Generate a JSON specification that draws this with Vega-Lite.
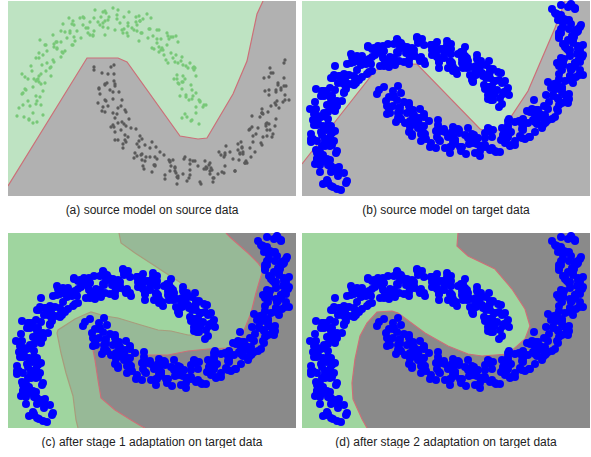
{
"$schema":"https://vega.github.io/schema/vega-lite/v6.json",
"padding":{"left":8,"top":0,"right":0,"bottom":0},
"background":"white",
"config":{"view":{"stroke":null},"title":{"font":"Liberation Sans","fontSize":12,"fontWeight":"normal","color":"#222222"}},
"datasets":{
"poly":[
{"r":"a","i":0,"x":-1.0,"y":-0.65},{"r":"a","i":1,"x":-0.21,"y":0.63},{"r":"a","i":2,"x":0.10,"y":0.63},{"r":"a","i":3,"x":0.19,"y":0.59},{"r":"a","i":4,"x":0.72,"y":-0.15},{"r":"a","i":5,"x":0.90,"y":-0.18},{"r":"a","i":6,"x":0.99,"y":-0.17},{"r":"a","i":7,"x":1.25,"y":0.27},{"r":"a","i":8,"x":1.39,"y":0.60},{"r":"a","i":9,"x":1.49,"y":1.07},{"r":"a","i":10,"x":1.55,"y":1.20},{"r":"a","i":11,"x":1.88,"y":1.20,"e":1},{"r":"a","i":12,"x":1.88,"y":-0.75,"e":1},{"r":"a","i":13,"x":-1.0,"y":-0.75,"e":1},
{"r":"b","i":0,"x":-1.0,"y":-0.43},{"r":"b","i":1,"x":-0.64,"y":0.03},{"r":"b","i":2,"x":-0.27,"y":0.50},{"r":"b","i":3,"x":-0.17,"y":0.56},{"r":"b","i":4,"x":0.15,"y":0.57},{"r":"b","i":5,"x":0.78,"y":-0.08},{"r":"b","i":6,"x":0.86,"y":-0.11},{"r":"b","i":7,"x":1.01,"y":-0.08},{"r":"b","i":8,"x":1.26,"y":0.30},{"r":"b","i":9,"x":1.53,"y":0.93},{"r":"b","i":10,"x":1.63,"y":1.20},{"r":"b","i":11,"x":1.88,"y":1.20,"e":1},{"r":"b","i":12,"x":1.88,"y":-0.75,"e":1},{"r":"b","i":13,"x":-1.0,"y":-0.75,"e":1},
{"r":"c1","i":0,"x":0.11,"y":1.20},{"r":"c1","i":1,"x":0.13,"y":1.10},{"r":"c1","i":2,"x":0.27,"y":1.00},{"r":"c1","i":3,"x":0.47,"y":0.87},{"r":"c1","i":4,"x":0.53,"y":0.83},{"r":"c1","i":5,"x":0.73,"y":0.70},{"r":"c1","i":6,"x":0.90,"y":0.57},{"r":"c1","i":7,"x":1.00,"y":0.47},{"r":"c1","i":8,"x":1.05,"y":0.37},{"r":"c1","i":9,"x":1.03,"y":0.27},{"r":"c1","i":10,"x":0.93,"y":0.18},{"r":"c1","i":11,"x":0.80,"y":0.18},{"r":"c1","i":12,"x":0.63,"y":0.22},{"r":"c1","i":13,"x":0.50,"y":0.23},{"r":"c1","i":14,"x":0.33,"y":0.28},{"r":"c1","i":15,"x":0.10,"y":0.35},{"r":"c1","i":16,"x":-0.03,"y":0.37},{"r":"c1","i":17,"x":-0.17,"y":0.41},{"r":"c1","i":18,"x":-0.22,"y":0.39},{"r":"c1","i":19,"x":-0.33,"y":0.34},{"r":"c1","i":20,"x":-0.50,"y":0.23},{"r":"c1","i":21,"x":-0.51,"y":0.20},{"r":"c1","i":22,"x":-0.47,"y":0.00},{"r":"c1","i":23,"x":-0.42,"y":-0.20},{"r":"c1","i":24,"x":-0.35,"y":-0.43},{"r":"c1","i":25,"x":-0.32,"y":-0.67},{"r":"c1","i":26,"x":-0.30,"y":-0.75},{"r":"c1","i":27,"x":1.88,"y":-0.75,"e":1},{"r":"c1","i":28,"x":1.88,"y":1.20,"e":1},
{"r":"c2","i":0,"x":1.18,"y":1.20},{"r":"c2","i":1,"x":1.23,"y":1.15},{"r":"c2","i":2,"x":1.40,"y":1.00},{"r":"c2","i":3,"x":1.50,"y":0.90},{"r":"c2","i":4,"x":1.55,"y":0.83},{"r":"c2","i":5,"x":1.53,"y":0.77},{"r":"c2","i":6,"x":1.48,"y":0.60},{"r":"c2","i":7,"x":1.43,"y":0.40},{"r":"c2","i":8,"x":1.35,"y":0.20},{"r":"c2","i":9,"x":1.30,"y":0.10},{"r":"c2","i":10,"x":1.20,"y":0.05},{"r":"c2","i":11,"x":1.00,"y":0.04},{"r":"c2","i":12,"x":0.80,"y":0.02},{"r":"c2","i":13,"x":0.60,"y":-0.02},{"r":"c2","i":14,"x":0.40,"y":-0.02},{"r":"c2","i":15,"x":0.27,"y":0.02},{"r":"c2","i":16,"x":0.10,"y":0.07},{"r":"c2","i":17,"x":-0.03,"y":0.08},{"r":"c2","i":18,"x":-0.17,"y":0.13},{"r":"c2","i":19,"x":-0.13,"y":-0.07},{"r":"c2","i":20,"x":-0.10,"y":-0.27},{"r":"c2","i":21,"x":-0.07,"y":-0.45},{"r":"c2","i":22,"x":0.07,"y":-0.57},{"r":"c2","i":23,"x":0.23,"y":-0.67},{"r":"c2","i":24,"x":0.33,"y":-0.73},{"r":"c2","i":25,"x":0.37,"y":-0.75},{"r":"c2","i":26,"x":1.88,"y":-0.75,"e":1},{"r":"c2","i":27,"x":1.88,"y":1.20,"e":1},
{"r":"d","i":0,"x":0.56,"y":1.20},{"r":"d","i":1,"x":0.55,"y":1.07},{"r":"d","i":2,"x":0.66,"y":0.97},{"r":"d","i":3,"x":0.93,"y":0.84},{"r":"d","i":4,"x":1.10,"y":0.64},{"r":"d","i":5,"x":1.23,"y":0.44},{"r":"d","i":6,"x":1.28,"y":0.27},{"r":"d","i":7,"x":1.23,"y":0.14},{"r":"d","i":8,"x":1.06,"y":-0.01},{"r":"d","i":9,"x":0.80,"y":-0.03},{"r":"d","i":10,"x":0.66,"y":-0.01},{"r":"d","i":11,"x":0.46,"y":0.07},{"r":"d","i":12,"x":0.23,"y":0.20},{"r":"d","i":13,"x":-0.04,"y":0.40},{"r":"d","i":14,"x":-0.10,"y":0.42},{"r":"d","i":15,"x":-0.25,"y":0.41},{"r":"d","i":16,"x":-0.35,"y":0.30},{"r":"d","i":17,"x":-0.42,"y":0.17},{"r":"d","i":18,"x":-0.47,"y":-0.06},{"r":"d","i":19,"x":-0.50,"y":-0.30},{"r":"d","i":20,"x":-0.49,"y":-0.46},{"r":"d","i":21,"x":-0.40,"y":-0.66},{"r":"d","i":22,"x":-0.35,"y":-0.75},{"r":"d","i":23,"x":1.88,"y":-0.75,"e":1},{"r":"d","i":24,"x":1.88,"y":1.20,"e":1}
],
"srcU":[
{"x":0.91,"y":-0.03},{"x":0.77,"y":0.07},{"x":0.88,"y":0.14},{"x":0.83,"y":0.00},
{"x":0.96,"y":0.16},{"x":0.79,"y":0.04},{"x":0.92,"y":0.20},{"x":0.84,"y":0.01},
{"x":0.72,"y":0.25},{"x":0.88,"y":0.28},{"x":0.84,"y":0.22},{"x":0.92,"y":0.19},
{"x":0.77,"y":0.42},{"x":0.85,"y":0.25},{"x":0.74,"y":0.32},{"x":0.88,"y":0.45},
{"x":0.83,"y":0.36},{"x":0.69,"y":0.46},{"x":0.80,"y":0.53},{"x":0.75,"y":0.39},
{"x":0.86,"y":0.54},{"x":0.69,"y":0.42},{"x":0.82,"y":0.58},{"x":0.74,"y":0.39},
{"x":0.58,"y":0.61},{"x":0.74,"y":0.64},{"x":0.70,"y":0.58},{"x":0.78,"y":0.55},
{"x":0.59,"y":0.76},{"x":0.67,"y":0.59},{"x":0.56,"y":0.66},{"x":0.70,"y":0.79},
{"x":0.63,"y":0.68},{"x":0.49,"y":0.78},{"x":0.60,"y":0.85},{"x":0.55,"y":0.71},
{"x":0.63,"y":0.84},{"x":0.46,"y":0.72},{"x":0.59,"y":0.88},{"x":0.51,"y":0.69},
{"x":0.33,"y":0.88},{"x":0.49,"y":0.91},{"x":0.45,"y":0.85},{"x":0.53,"y":0.82},
{"x":0.32,"y":1.00},{"x":0.40,"y":0.83},{"x":0.29,"y":0.90},{"x":0.43,"y":1.03},
{"x":0.34,"y":0.88},{"x":0.20,"y":0.98},{"x":0.31,"y":1.05},{"x":0.26,"y":0.91},
{"x":0.32,"y":1.00},{"x":0.15,"y":0.88},{"x":0.28,"y":1.04},{"x":0.20,"y":0.85},
{"x":0.00,"y":1.01},{"x":0.16,"y":1.04},{"x":0.12,"y":0.98},{"x":0.20,"y":0.95},
{"x":-0.02,"y":1.08},{"x":0.07,"y":0.91},{"x":-0.05,"y":0.98},{"x":0.10,"y":1.11},
{"x":0.00,"y":0.93},{"x":-0.14,"y":1.03},{"x":-0.03,"y":1.10},{"x":-0.08,"y":0.96},
{"x":-0.03,"y":1.00},{"x":-0.20,"y":0.88},{"x":-0.07,"y":1.04},{"x":-0.15,"y":0.85},
{"x":-0.34,"y":0.96},{"x":-0.18,"y":0.99},{"x":-0.22,"y":0.93},{"x":-0.14,"y":0.90},
{"x":-0.35,"y":1.00},{"x":-0.27,"y":0.83},{"x":-0.38,"y":0.90},{"x":-0.24,"y":1.03},
{"x":-0.33,"y":0.80},{"x":-0.47,"y":0.90},{"x":-0.36,"y":0.97},{"x":-0.41,"y":0.83},
{"x":-0.34,"y":0.84},{"x":-0.51,"y":0.72},{"x":-0.38,"y":0.88},{"x":-0.46,"y":0.69},
{"x":-0.63,"y":0.76},{"x":-0.47,"y":0.79},{"x":-0.51,"y":0.73},{"x":-0.43,"y":0.70},
{"x":-0.62,"y":0.76},{"x":-0.54,"y":0.59},{"x":-0.65,"y":0.66},{"x":-0.51,"y":0.79},
{"x":-0.58,"y":0.53},{"x":-0.72,"y":0.63},{"x":-0.61,"y":0.70},{"x":-0.66,"y":0.56},
{"x":-0.57,"y":0.54},{"x":-0.74,"y":0.42},{"x":-0.61,"y":0.58},{"x":-0.69,"y":0.39},
{"x":-0.83,"y":0.44},{"x":-0.67,"y":0.47},{"x":-0.71,"y":0.41},{"x":-0.63,"y":0.38},
{"x":-0.80,"y":0.42},{"x":-0.72,"y":0.25},{"x":-0.83,"y":0.32},{"x":-0.69,"y":0.45},
{"x":-0.72,"y":0.17},{"x":-0.86,"y":0.27},{"x":-0.75,"y":0.34},{"x":-0.80,"y":0.20},
{"x":-0.67,"y":0.16},{"x":-0.84,"y":0.04},{"x":-0.71,"y":0.20},{"x":-0.79,"y":0.01},
{"x":-0.91,"y":0.05},{"x":-0.75,"y":0.08},{"x":-0.79,"y":0.02},{"x":-0.71,"y":-0.01},
{"x":0.95,"y":0.14},{"x":0.81,"y":0.21},{"x":0.74,"y":0.03},
{"x":0.88,"y":0.08},{"x":0.98,"y":0.16},{"x":0.78,"y":0.26},
{"x":0.84,"y":0.31},{"x":0.70,"y":0.38},{"x":0.91,"y":0.21},
{"x":0.78,"y":0.24},{"x":0.86,"y":0.51},{"x":0.71,"y":0.37},
{"x":0.87,"y":0.53},{"x":0.73,"y":0.60},{"x":0.66,"y":0.42},
{"x":0.75,"y":0.45},{"x":0.85,"y":0.53},{"x":0.65,"y":0.63},
{"x":0.68,"y":0.66},{"x":0.54,"y":0.73},{"x":0.75,"y":0.56},
{"x":0.60,"y":0.58},{"x":0.68,"y":0.85},{"x":0.53,"y":0.71},
{"x":0.65,"y":0.84},{"x":0.51,"y":0.91},{"x":0.44,"y":0.73},
{"x":0.51,"y":0.74},{"x":0.61,"y":0.82},{"x":0.41,"y":0.92},
{"x":0.42,"y":0.92},{"x":0.28,"y":0.99},{"x":0.49,"y":0.82},
{"x":0.31,"y":0.80},{"x":0.39,"y":1.07},{"x":0.24,"y":0.93},
{"x":0.35,"y":1.02},{"x":0.21,"y":1.09},{"x":0.14,"y":0.91},
{"x":0.19,"y":0.88},{"x":0.29,"y":0.96},{"x":0.09,"y":1.06},
{"x":0.09,"y":1.02},{"x":-0.05,"y":1.09},{"x":0.16,"y":0.92},
{"x":-0.03,"y":0.86},{"x":0.05,"y":1.13},{"x":-0.10,"y":0.99},
{"x":0.01,"y":1.04},{"x":-0.13,"y":1.11},{"x":-0.20,"y":0.93},
{"x":-0.15,"y":0.86},{"x":-0.05,"y":0.94},{"x":-0.25,"y":1.04},
{"x":-0.25,"y":0.96},{"x":-0.39,"y":1.03},{"x":-0.18,"y":0.86},
{"x":-0.36,"y":0.76},{"x":-0.28,"y":1.03},{"x":-0.43,"y":0.89},
{"x":-0.31,"y":0.90},{"x":-0.45,"y":0.97},{"x":-0.52,"y":0.79},
{"x":-0.45,"y":0.68},{"x":-0.35,"y":0.76},{"x":-0.55,"y":0.86},
{"x":-0.54,"y":0.74},{"x":-0.68,"y":0.81},{"x":-0.47,"y":0.64},
{"x":-0.62,"y":0.50},{"x":-0.54,"y":0.77},{"x":-0.69,"y":0.63},
{"x":-0.55,"y":0.61},{"x":-0.69,"y":0.68},{"x":-0.76,"y":0.50},
{"x":-0.67,"y":0.37},{"x":-0.57,"y":0.45},{"x":-0.77,"y":0.55},
{"x":-0.72,"y":0.40},{"x":-0.86,"y":0.47},{"x":-0.65,"y":0.30},
{"x":-0.78,"y":0.15},{"x":-0.70,"y":0.42},{"x":-0.85,"y":0.28},
{"x":-0.68,"y":0.24},{"x":-0.82,"y":0.31},{"x":-0.89,"y":0.13},
{"x":-0.75,"y":-0.02},{"x":-0.65,"y":0.06},{"x":-0.85,"y":0.16}
],
"srcL":[
{"x":0.06,"y":0.56},{"x":-0.03,"y":0.37},{"x":-0.14,"y":0.51},{"x":0.03,"y":0.54},
{"x":-0.01,"y":0.38},{"x":0.07,"y":0.35},{"x":-0.06,"y":0.48},{"x":0.02,"y":0.31},
{"x":-0.08,"y":0.27},{"x":0.06,"y":0.40},{"x":0.05,"y":0.22},{"x":-0.09,"y":0.32},
{"x":0.05,"y":0.29},{"x":0.00,"y":0.15},{"x":0.14,"y":0.21},{"x":-0.03,"y":0.09},
{"x":0.13,"y":0.15},{"x":0.05,"y":-0.04},{"x":-0.06,"y":0.10},{"x":0.10,"y":0.13},
{"x":0.10,"y":-0.02},{"x":0.18,"y":-0.05},{"x":0.05,"y":0.08},{"x":0.13,"y":-0.09},
{"x":0.07,"y":-0.11},{"x":0.21,"y":0.02},{"x":0.20,"y":-0.16},{"x":0.06,"y":-0.06},
{"x":0.23,"y":-0.07},{"x":0.18,"y":-0.21},{"x":0.32,"y":-0.15},{"x":0.15,"y":-0.27},
{"x":0.34,"y":-0.18},{"x":0.26,"y":-0.37},{"x":0.15,"y":-0.23},{"x":0.31,"y":-0.20},
{"x":0.34,"y":-0.33},{"x":0.42,"y":-0.36},{"x":0.29,"y":-0.23},{"x":0.37,"y":-0.40},
{"x":0.34,"y":-0.39},{"x":0.48,"y":-0.26},{"x":0.47,"y":-0.44},{"x":0.33,"y":-0.34},
{"x":0.52,"y":-0.31},{"x":0.47,"y":-0.45},{"x":0.61,"y":-0.39},{"x":0.44,"y":-0.51},
{"x":0.65,"y":-0.39},{"x":0.57,"y":-0.58},{"x":0.46,"y":-0.44},{"x":0.62,"y":-0.41},
{"x":0.67,"y":-0.50},{"x":0.75,"y":-0.53},{"x":0.62,"y":-0.40},{"x":0.70,"y":-0.57},
{"x":0.68,"y":-0.52},{"x":0.82,"y":-0.39},{"x":0.81,"y":-0.57},{"x":0.67,"y":-0.47},
{"x":0.87,"y":-0.40},{"x":0.82,"y":-0.54},{"x":0.96,"y":-0.48},{"x":0.79,"y":-0.60},
{"x":1.01,"y":-0.44},{"x":0.93,"y":-0.63},{"x":0.82,"y":-0.49},{"x":0.98,"y":-0.46},
{"x":1.02,"y":-0.50},{"x":1.10,"y":-0.53},{"x":0.97,"y":-0.40},{"x":1.05,"y":-0.57},
{"x":1.03,"y":-0.47},{"x":1.17,"y":-0.34},{"x":1.16,"y":-0.52},{"x":1.02,"y":-0.42},
{"x":1.22,"y":-0.31},{"x":1.17,"y":-0.45},{"x":1.31,"y":-0.39},{"x":1.14,"y":-0.51},
{"x":1.35,"y":-0.31},{"x":1.27,"y":-0.50},{"x":1.16,"y":-0.36},{"x":1.32,"y":-0.33},
{"x":1.35,"y":-0.33},{"x":1.43,"y":-0.36},{"x":1.30,"y":-0.23},{"x":1.38,"y":-0.40},
{"x":1.34,"y":-0.26},{"x":1.48,"y":-0.13},{"x":1.47,"y":-0.31},{"x":1.33,"y":-0.21},
{"x":1.50,"y":-0.07},{"x":1.45,"y":-0.21},{"x":1.59,"y":-0.15},{"x":1.42,"y":-0.27},
{"x":1.61,"y":-0.03},{"x":1.53,"y":-0.22},{"x":1.42,"y":-0.08},{"x":1.58,"y":-0.05},
{"x":1.59,"y":-0.02},{"x":1.67,"y":-0.05},{"x":1.54,"y":0.08},{"x":1.62,"y":-0.09},
{"x":1.55,"y":0.07},{"x":1.69,"y":0.20},{"x":1.68,"y":0.02},{"x":1.54,"y":0.12},
{"x":1.68,"y":0.29},{"x":1.63,"y":0.15},{"x":1.77,"y":0.21},{"x":1.60,"y":0.09},
{"x":1.76,"y":0.35},{"x":1.68,"y":0.16},{"x":1.57,"y":0.30},{"x":1.73,"y":0.33},
{"x":1.70,"y":0.38},{"x":1.78,"y":0.35},{"x":1.65,"y":0.48},{"x":1.73,"y":0.31},
{"x":1.63,"y":0.48},{"x":1.77,"y":0.61},{"x":1.76,"y":0.43},{"x":1.62,"y":0.53},
{"x":0.00,"y":0.47},{"x":-0.14,"y":0.54},{"x":0.07,"y":0.37},
{"x":-0.02,"y":0.20},{"x":0.06,"y":0.47},{"x":-0.09,"y":0.33},
{"x":0.11,"y":0.29},{"x":-0.03,"y":0.36},{"x":-0.10,"y":0.18},
{"x":0.07,"y":0.03},{"x":0.17,"y":0.11},{"x":-0.03,"y":0.21},
{"x":0.09,"y":0.07},{"x":-0.05,"y":0.14},{"x":0.16,"y":-0.03},
{"x":0.10,"y":-0.19},{"x":0.18,"y":0.09},{"x":0.03,"y":-0.06},
{"x":0.28,"y":-0.08},{"x":0.14,"y":-0.01},{"x":0.07,"y":-0.19},
{"x":0.27,"y":-0.32},{"x":0.37,"y":-0.24},{"x":0.17,"y":-0.14},
{"x":0.31,"y":-0.26},{"x":0.17,"y":-0.19},{"x":0.38,"y":-0.36},
{"x":0.36,"y":-0.48},{"x":0.44,"y":-0.21},{"x":0.29,"y":-0.35},
{"x":0.56,"y":-0.34},{"x":0.42,"y":-0.27},{"x":0.35,"y":-0.45},
{"x":0.57,"y":-0.54},{"x":0.67,"y":-0.46},{"x":0.47,"y":-0.36},
{"x":0.63,"y":-0.45},{"x":0.49,"y":-0.38},{"x":0.70,"y":-0.55},
{"x":0.69,"y":-0.63},{"x":0.77,"y":-0.36},{"x":0.62,"y":-0.50},
{"x":0.90,"y":-0.45},{"x":0.76,"y":-0.38},{"x":0.69,"y":-0.56},
{"x":0.92,"y":-0.61},{"x":1.02,"y":-0.53},{"x":0.82,"y":-0.43},
{"x":0.99,"y":-0.47},{"x":0.85,"y":-0.40},{"x":1.06,"y":-0.57},
{"x":1.05,"y":-0.61},{"x":1.13,"y":-0.34},{"x":0.98,"y":-0.48},
{"x":1.25,"y":-0.38},{"x":1.11,"y":-0.31},{"x":1.04,"y":-0.49},
{"x":1.27,"y":-0.50},{"x":1.37,"y":-0.42},{"x":1.17,"y":-0.32},
{"x":1.32,"y":-0.32},{"x":1.18,"y":-0.25},{"x":1.39,"y":-0.42},
{"x":1.37,"y":-0.42},{"x":1.45,"y":-0.15},{"x":1.30,"y":-0.29},
{"x":1.55,"y":-0.16},{"x":1.41,"y":-0.09},{"x":1.34,"y":-0.27},
{"x":1.54,"y":-0.24},{"x":1.64,"y":-0.16},{"x":1.44,"y":-0.06},
{"x":1.58,"y":-0.03},{"x":1.44,"y":0.05},{"x":1.65,"y":-0.13},
{"x":1.59,"y":-0.09},{"x":1.67,"y":0.18},{"x":1.52,"y":0.04},
{"x":1.75,"y":0.19},{"x":1.61,"y":0.26},{"x":1.54,"y":0.08},
{"x":1.71,"y":0.13},{"x":1.81,"y":0.21},{"x":1.61,"y":0.31},
{"x":1.70,"y":0.36},{"x":1.56,"y":0.43},{"x":1.77,"y":0.26},
{"x":1.68,"y":0.31},{"x":1.76,"y":0.58},{"x":1.61,"y":0.44}
],
"tgt":[
{"x":-0.61,"y":-0.69},{"x":-0.75,"y":-0.59},{"x":-0.64,"y":-0.52},{"x":-0.69,"y":-0.66},{"x":-0.55,"y":-0.60},
{"x":-0.76,"y":-0.62},{"x":-0.63,"y":-0.46},{"x":-0.71,"y":-0.65},{"x":-0.82,"y":-0.51},{"x":-0.66,"y":-0.48},
{"x":-0.74,"y":-0.44},{"x":-0.66,"y":-0.47},{"x":-0.79,"y":-0.34},{"x":-0.71,"y":-0.51},{"x":-0.82,"y":-0.44},
{"x":-0.71,"y":-0.21},{"x":-0.72,"y":-0.39},{"x":-0.86,"y":-0.29},{"x":-0.75,"y":-0.22},{"x":-0.80,"y":-0.36},
{"x":-0.68,"y":-0.20},{"x":-0.85,"y":-0.32},{"x":-0.72,"y":-0.16},{"x":-0.80,"y":-0.35},{"x":-0.91,"y":-0.21},
{"x":-0.76,"y":-0.08},{"x":-0.80,"y":-0.14},{"x":-0.72,"y":-0.17},{"x":-0.85,"y":-0.04},{"x":-0.77,"y":-0.21},
{"x":-0.88,"y":-0.04},{"x":-0.74,"y":0.09},{"x":-0.75,"y":-0.09},{"x":-0.89,"y":0.01},{"x":-0.78,"y":0.08},
{"x":-0.81,"y":0.04},{"x":-0.67,"y":0.10},{"x":-0.84,"y":-0.02},{"x":-0.71,"y":0.14},{"x":-0.79,"y":-0.05},
{"x":-0.87,"y":0.19},{"x":-0.71,"y":0.22},{"x":-0.75,"y":0.16},{"x":-0.67,"y":0.13},{"x":-0.80,"y":0.26},
{"x":-0.67,"y":0.18},{"x":-0.78,"y":0.25},{"x":-0.64,"y":0.38},{"x":-0.65,"y":0.20},{"x":-0.79,"y":0.30},
{"x":-0.62,"y":0.45},{"x":-0.67,"y":0.31},{"x":-0.53,"y":0.37},{"x":-0.70,"y":0.25},{"x":-0.57,"y":0.41},
{"x":-0.58,"y":0.29},{"x":-0.69,"y":0.43},{"x":-0.53,"y":0.46},{"x":-0.60,"y":0.38},{"x":-0.49,"y":0.37},
{"x":-0.55,"y":0.57},{"x":-0.47,"y":0.40},{"x":-0.58,"y":0.47},{"x":-0.44,"y":0.60},{"x":-0.45,"y":0.42},
{"x":-0.51,"y":0.58},{"x":-0.40,"y":0.65},{"x":-0.45,"y":0.51},{"x":-0.31,"y":0.57},{"x":-0.48,"y":0.45},
{"x":-0.27,"y":0.66},{"x":-0.35,"y":0.47},{"x":-0.46,"y":0.61},{"x":-0.30,"y":0.64},{"x":-0.34,"y":0.58},
{"x":-0.17,"y":0.59},{"x":-0.30,"y":0.72},{"x":-0.22,"y":0.55},{"x":-0.33,"y":0.62},{"x":-0.19,"y":0.75},
{"x":-0.11,"y":0.60},{"x":-0.25,"y":0.70},{"x":-0.14,"y":0.77},{"x":-0.19,"y":0.63},{"x":-0.05,"y":0.69},
{"x":-0.12,"y":0.59},{"x":0.01,"y":0.75},{"x":-0.07,"y":0.56},{"x":-0.18,"y":0.70},{"x":-0.02,"y":0.73},
{"x":0.04,"y":0.68},{"x":0.12,"y":0.65},{"x":-0.01,"y":0.78},{"x":0.07,"y":0.61},{"x":-0.04,"y":0.68},
{"x":0.20,"y":0.82},{"x":0.19,"y":0.64},{"x":0.05,"y":0.74},{"x":0.16,"y":0.81},{"x":0.11,"y":0.67},
{"x":0.35,"y":0.72},{"x":0.18,"y":0.60},{"x":0.31,"y":0.76},{"x":0.23,"y":0.57},{"x":0.12,"y":0.71},
{"x":0.38,"y":0.72},{"x":0.34,"y":0.66},{"x":0.42,"y":0.63},{"x":0.29,"y":0.76},{"x":0.37,"y":0.59},
{"x":0.35,"y":0.64},{"x":0.49,"y":0.77},{"x":0.48,"y":0.59},{"x":0.34,"y":0.69},{"x":0.45,"y":0.76},
{"x":0.49,"y":0.59},{"x":0.63,"y":0.65},{"x":0.46,"y":0.53},{"x":0.59,"y":0.69},{"x":0.51,"y":0.50},
{"x":0.50,"y":0.58},{"x":0.65,"y":0.63},{"x":0.61,"y":0.57},{"x":0.69,"y":0.54},{"x":0.56,"y":0.67},
{"x":0.72,"y":0.46},{"x":0.61,"y":0.53},{"x":0.75,"y":0.66},{"x":0.74,"y":0.48},{"x":0.60,"y":0.58},
{"x":0.79,"y":0.60},{"x":0.74,"y":0.46},{"x":0.88,"y":0.52},{"x":0.71,"y":0.40},{"x":0.84,"y":0.56},
{"x":0.83,"y":0.32},{"x":0.72,"y":0.46},{"x":0.88,"y":0.49},{"x":0.84,"y":0.43},{"x":0.92,"y":0.40},
{"x":0.85,"y":0.46},{"x":0.93,"y":0.29},{"x":0.82,"y":0.36},{"x":0.96,"y":0.49},{"x":0.95,"y":0.31},
{"x":0.86,"y":0.34},{"x":0.97,"y":0.41},{"x":0.92,"y":0.27},{"x":1.06,"y":0.33},{"x":0.89,"y":0.21},
{"x":1.05,"y":0.31},{"x":0.97,"y":0.14},{"x":0.86,"y":0.26},{"x":1.02,"y":0.29},{"x":0.98,"y":0.23},
{"x":-0.58,"y":-0.52},{"x":-0.72,"y":-0.45},{"x":-0.79,"y":-0.63},{"x":-0.65,"y":-0.68},{"x":-0.56,"y":-0.62},
{"x":-0.79,"y":-0.40},{"x":-0.71,"y":-0.45},{"x":-0.85,"y":-0.38},{"x":-0.64,"y":-0.55},{"x":-0.74,"y":-0.61},
{"x":-0.70,"y":-0.24},{"x":-0.85,"y":-0.38},{"x":-0.66,"y":-0.32},{"x":-0.80,"y":-0.25},{"x":-0.87,"y":-0.43},
{"x":-0.75,"y":-0.38},{"x":-0.65,"y":-0.30},{"x":-0.85,"y":-0.20},{"x":-0.77,"y":-0.25},{"x":-0.91,"y":-0.18},
{"x":-0.72,"y":-0.25},{"x":-0.82,"y":-0.31},{"x":-0.74,"y":-0.04},{"x":-0.89,"y":-0.18},{"x":-0.70,"y":-0.12},
{"x":-0.84,"y":0.05},{"x":-0.91,"y":-0.13},{"x":-0.77,"y":-0.18},{"x":-0.67,"y":-0.10},{"x":-0.87,"y":0.00},
{"x":-0.78,"y":0.05},{"x":-0.92,"y":0.12},{"x":-0.71,"y":-0.05},{"x":-0.81,"y":-0.11},{"x":-0.73,"y":0.16},
{"x":-0.86,"y":0.12},{"x":-0.67,"y":0.18},{"x":-0.81,"y":0.25},{"x":-0.88,"y":0.07},{"x":-0.74,"y":0.02},
{"x":-0.60,"y":0.20},{"x":-0.80,"y":0.30},{"x":-0.72,"y":0.25},{"x":-0.86,"y":0.32},{"x":-0.65,"y":0.15},
{"x":-0.69,"y":0.17},{"x":-0.61,"y":0.44},{"x":-0.76,"y":0.30},{"x":-0.57,"y":0.36},{"x":-0.71,"y":0.43},
{"x":-0.72,"y":0.33},{"x":-0.58,"y":0.28},{"x":-0.48,"y":0.36},{"x":-0.68,"y":0.46},{"x":-0.60,"y":0.41},
{"x":-0.67,"y":0.55},{"x":-0.46,"y":0.38},{"x":-0.56,"y":0.32},{"x":-0.48,"y":0.59},{"x":-0.63,"y":0.45},
{"x":-0.36,"y":0.57},{"x":-0.50,"y":0.64},{"x":-0.57,"y":0.46},{"x":-0.43,"y":0.41},{"x":-0.33,"y":0.49},
{"x":-0.45,"y":0.65},{"x":-0.37,"y":0.60},{"x":-0.51,"y":0.67},{"x":-0.30,"y":0.50},{"x":-0.40,"y":0.44},
{"x":-0.24,"y":0.75},{"x":-0.39,"y":0.61},{"x":-0.20,"y":0.67},{"x":-0.34,"y":0.74},{"x":-0.41,"y":0.56},
{"x":-0.18,"y":0.55},{"x":-0.08,"y":0.63},{"x":-0.28,"y":0.73},{"x":-0.20,"y":0.68},{"x":-0.34,"y":0.75},
{"x":-0.03,"y":0.60},{"x":-0.13,"y":0.54},{"x":-0.05,"y":0.81},{"x":-0.20,"y":0.67},{"x":-0.01,"y":0.73},
{"x":-0.05,"y":0.82},{"x":-0.12,"y":0.64},{"x":0.02,"y":0.59},{"x":0.12,"y":0.67},{"x":-0.08,"y":0.77},
{"x":0.10,"y":0.73},{"x":-0.04,"y":0.80},{"x":0.17,"y":0.63},{"x":0.07,"y":0.57},{"x":0.15,"y":0.84},
{"x":0.10,"y":0.70},{"x":0.29,"y":0.76},{"x":0.15,"y":0.83},{"x":0.08,"y":0.65},{"x":0.22,"y":0.60},
{"x":0.42,"y":0.66},{"x":0.22,"y":0.76},{"x":0.30,"y":0.71},{"x":0.16,"y":0.78},{"x":0.37,"y":0.61},
{"x":0.37,"y":0.53},{"x":0.45,"y":0.80},{"x":0.30,"y":0.66},{"x":0.49,"y":0.72},{"x":0.35,"y":0.79},
{"x":0.37,"y":0.59},{"x":0.51,"y":0.54},{"x":0.61,"y":0.62},{"x":0.41,"y":0.72},{"x":0.49,"y":0.67},
{"x":0.44,"y":0.70},{"x":0.65,"y":0.53},{"x":0.55,"y":0.47},{"x":0.63,"y":0.74},{"x":0.48,"y":0.60},
{"x":0.75,"y":0.62},{"x":0.61,"y":0.69},{"x":0.54,"y":0.51},{"x":0.68,"y":0.46},{"x":0.78,"y":0.54},
{"x":0.66,"y":0.60},{"x":0.74,"y":0.55},{"x":0.60,"y":0.62},{"x":0.81,"y":0.45},{"x":0.71,"y":0.39},
{"x":0.87,"y":0.60},{"x":0.72,"y":0.46},{"x":0.91,"y":0.52},{"x":0.77,"y":0.59},{"x":0.70,"y":0.41},
{"x":0.90,"y":0.30},{"x":1.00,"y":0.38},{"x":0.80,"y":0.48},{"x":0.88,"y":0.43},{"x":0.74,"y":0.50},
{"x":1.01,"y":0.27},{"x":0.91,"y":0.21},{"x":0.99,"y":0.48},{"x":0.84,"y":0.34},{"x":1.03,"y":0.40},
{"x":0.93,"y":0.40},{"x":0.86,"y":0.22},{"x":1.00,"y":0.17},{"x":1.07,"y":0.26},{"x":0.90,"y":0.35},
{"x":-0.25,"y":0.27},{"x":-0.09,"y":0.30},{"x":-0.13,"y":0.24},{"x":-0.05,"y":0.21},{"x":-0.18,"y":0.34},
{"x":-0.04,"y":0.08},{"x":-0.15,"y":0.15},{"x":-0.01,"y":0.28},{"x":-0.02,"y":0.10},{"x":-0.16,"y":0.20},
{"x":0.02,"y":0.19},{"x":-0.03,"y":0.05},{"x":0.11,"y":0.11},{"x":-0.06,"y":-0.01},{"x":0.07,"y":0.15},
{"x":0.07,"y":-0.11},{"x":-0.04,"y":0.03},{"x":0.12,"y":0.06},{"x":0.08,"y":0.00},{"x":0.16,"y":-0.03},
{"x":0.11,"y":0.04},{"x":0.19,"y":-0.13},{"x":0.08,"y":-0.06},{"x":0.22,"y":0.07},{"x":0.21,"y":-0.11},
{"x":0.16,"y":-0.07},{"x":0.27,"y":0.00},{"x":0.22,"y":-0.14},{"x":0.36,"y":-0.08},{"x":0.19,"y":-0.20},
{"x":0.42,"y":-0.08},{"x":0.34,"y":-0.27},{"x":0.23,"y":-0.13},{"x":0.39,"y":-0.10},{"x":0.35,"y":-0.16},
{"x":0.53,"y":-0.22},{"x":0.40,"y":-0.09},{"x":0.48,"y":-0.26},{"x":0.37,"y":-0.19},{"x":0.51,"y":-0.06},
{"x":0.60,"y":-0.26},{"x":0.46,"y":-0.16},{"x":0.57,"y":-0.09},{"x":0.52,"y":-0.23},{"x":0.66,"y":-0.17},
{"x":0.59,"y":-0.30},{"x":0.72,"y":-0.14},{"x":0.64,"y":-0.33},{"x":0.53,"y":-0.19},{"x":0.69,"y":-0.16},
{"x":0.75,"y":-0.23},{"x":0.83,"y":-0.26},{"x":0.70,"y":-0.13},{"x":0.78,"y":-0.30},{"x":0.67,"y":-0.23},
{"x":0.91,"y":-0.09},{"x":0.90,"y":-0.27},{"x":0.76,"y":-0.17},{"x":0.87,"y":-0.10},{"x":0.82,"y":-0.24},
{"x":1.06,"y":-0.16},{"x":0.89,"y":-0.28},{"x":1.02,"y":-0.12},{"x":0.94,"y":-0.31},{"x":0.83,"y":-0.17},
{"x":1.09,"y":-0.11},{"x":1.05,"y":-0.17},{"x":1.13,"y":-0.20},{"x":1.00,"y":-0.07},{"x":1.08,"y":-0.24},
{"x":1.07,"y":-0.12},{"x":1.21,"y":0.01},{"x":1.20,"y":-0.17},{"x":1.06,"y":-0.07},{"x":1.17,"y":0.00},
{"x":1.21,"y":-0.09},{"x":1.35,"y":-0.03},{"x":1.18,"y":-0.15},{"x":1.31,"y":0.01},{"x":1.23,"y":-0.18},
{"x":1.21,"y":0.02},{"x":1.37,"y":0.05},{"x":1.33,"y":-0.01},{"x":1.41,"y":-0.04},{"x":1.28,"y":0.09},
{"x":1.44,"y":-0.01},{"x":1.33,"y":0.06},{"x":1.47,"y":0.19},{"x":1.46,"y":0.01},{"x":1.32,"y":0.11},
{"x":1.51,"y":0.26},{"x":1.46,"y":0.12},{"x":1.60,"y":0.18},{"x":1.43,"y":0.06},{"x":1.56,"y":0.22},
{"x":1.55,"y":0.12},{"x":1.44,"y":0.26},{"x":1.60,"y":0.29},{"x":1.56,"y":0.23},{"x":1.64,"y":0.20},
{"x":1.57,"y":0.42},{"x":1.65,"y":0.25},{"x":1.54,"y":0.32},{"x":1.68,"y":0.45},{"x":1.67,"y":0.27},
{"x":1.57,"y":0.47},{"x":1.68,"y":0.54},{"x":1.63,"y":0.40},{"x":1.77,"y":0.46},{"x":1.60,"y":0.34},
{"x":1.76,"y":0.60},{"x":1.68,"y":0.41},{"x":1.57,"y":0.55},{"x":1.73,"y":0.58},{"x":1.69,"y":0.52},
{"x":1.78,"y":0.59},{"x":1.65,"y":0.72},{"x":1.73,"y":0.55},{"x":1.62,"y":0.62},{"x":1.76,"y":0.75},
{"x":1.75,"y":0.67},{"x":1.61,"y":0.77},{"x":1.72,"y":0.84},{"x":1.67,"y":0.70},{"x":1.81,"y":0.76},
{"x":1.63,"y":0.74},{"x":1.76,"y":0.90},{"x":1.68,"y":0.71},{"x":1.57,"y":0.85},{"x":1.73,"y":0.88},
{"x":1.67,"y":0.92},{"x":1.75,"y":0.89},{"x":1.62,"y":1.02},{"x":1.70,"y":0.85},{"x":1.59,"y":0.92},
{"x":1.70,"y":1.15},{"x":1.69,"y":0.97},{"x":1.55,"y":1.07},{"x":1.66,"y":1.14},{"x":1.61,"y":1.00},
{"x":1.73,"y":1.13},{"x":1.56,"y":1.01},{"x":1.69,"y":1.17},{"x":1.61,"y":0.98},{"x":1.50,"y":1.12},
{"x":-0.09,"y":0.24},{"x":-0.23,"y":0.31},{"x":-0.02,"y":0.14},{"x":-0.12,"y":0.08},{"x":-0.04,"y":0.35},
{"x":-0.13,"y":0.12},{"x":0.07,"y":0.18},{"x":-0.08,"y":0.25},{"x":-0.15,"y":0.07},{"x":-0.01,"y":0.02},
{"x":0.17,"y":0.03},{"x":-0.03,"y":0.13},{"x":0.05,"y":0.08},{"x":-0.09,"y":0.15},{"x":0.12,"y":-0.03},
{"x":0.10,"y":-0.15},{"x":0.18,"y":0.12},{"x":0.03,"y":-0.02},{"x":0.22,"y":0.04},{"x":0.08,"y":0.11},
{"x":0.10,"y":-0.13},{"x":0.24,"y":-0.18},{"x":0.34,"y":-0.10},{"x":0.14,"y":0.00},{"x":0.22,"y":-0.05},
{"x":0.17,"y":-0.03},{"x":0.38,"y":-0.20},{"x":0.28,"y":-0.26},{"x":0.36,"y":0.01},{"x":0.21,"y":-0.13},
{"x":0.50,"y":-0.11},{"x":0.36,"y":-0.04},{"x":0.29,"y":-0.22},{"x":0.43,"y":-0.27},{"x":0.53,"y":-0.19},
{"x":0.43,"y":-0.11},{"x":0.51,"y":-0.16},{"x":0.37,"y":-0.09},{"x":0.58,"y":-0.26},{"x":0.48,"y":-0.32},
{"x":0.66,"y":-0.07},{"x":0.51,"y":-0.21},{"x":0.70,"y":-0.15},{"x":0.56,"y":-0.08},{"x":0.49,"y":-0.26},
{"x":0.73,"y":-0.32},{"x":0.83,"y":-0.24},{"x":0.63,"y":-0.14},{"x":0.71,"y":-0.19},{"x":0.57,"y":-0.12},
{"x":0.88,"y":-0.29},{"x":0.78,"y":-0.35},{"x":0.86,"y":-0.08},{"x":0.71,"y":-0.22},{"x":0.90,"y":-0.16},
{"x":0.86,"y":-0.07},{"x":0.79,"y":-0.25},{"x":0.93,"y":-0.30},{"x":1.03,"y":-0.22},{"x":0.83,"y":-0.12},
{"x":1.01,"y":-0.15},{"x":0.87,"y":-0.08},{"x":1.08,"y":-0.25},{"x":0.98,"y":-0.31},{"x":1.06,"y":-0.04},
{"x":1.01,"y":-0.14},{"x":1.20,"y":-0.08},{"x":1.06,"y":0.00},{"x":0.99,"y":-0.19},{"x":1.13,"y":-0.24},
{"x":1.33,"y":-0.11},{"x":1.13,"y":-0.01},{"x":1.21,"y":-0.06},{"x":1.07,"y":0.02},{"x":1.28,"y":-0.16},
{"x":1.27,"y":-0.16},{"x":1.35,"y":0.11},{"x":1.20,"y":-0.03},{"x":1.39,"y":0.03},{"x":1.25,"y":0.10},
{"x":1.26,"y":-0.02},{"x":1.40,"y":-0.07},{"x":1.50,"y":0.02},{"x":1.30,"y":0.12},{"x":1.38,"y":0.07},
{"x":1.32,"y":0.21},{"x":1.53,"y":0.04},{"x":1.43,"y":-0.02},{"x":1.51,"y":0.25},{"x":1.36,"y":0.11},
{"x":1.63,"y":0.26},{"x":1.49,"y":0.33},{"x":1.42,"y":0.15},{"x":1.56,"y":0.10},{"x":1.66,"y":0.18},
{"x":1.52,"y":0.37},{"x":1.60,"y":0.32},{"x":1.46,"y":0.39},{"x":1.67,"y":0.22},{"x":1.57,"y":0.16},
{"x":1.70,"y":0.52},{"x":1.55,"y":0.38},{"x":1.74,"y":0.44},{"x":1.60,"y":0.51},{"x":1.53,"y":0.33},
{"x":1.71,"y":0.38},{"x":1.81,"y":0.46},{"x":1.61,"y":0.56},{"x":1.69,"y":0.51},{"x":1.55,"y":0.58},
{"x":1.78,"y":0.51},{"x":1.68,"y":0.45},{"x":1.76,"y":0.72},{"x":1.61,"y":0.58},{"x":1.80,"y":0.64},
{"x":1.66,"y":0.81},{"x":1.59,"y":0.63},{"x":1.73,"y":0.58},{"x":1.81,"y":0.66},{"x":1.63,"y":0.76},
{"x":1.71,"y":0.81},{"x":1.57,"y":0.88},{"x":1.78,"y":0.71},{"x":1.68,"y":0.65},{"x":1.76,"y":0.92},
{"x":1.59,"y":0.88},{"x":1.78,"y":0.94},{"x":1.64,"y":1.01},{"x":1.57,"y":0.83},{"x":1.71,"y":0.78},
{"x":1.79,"y":0.96},{"x":1.59,"y":1.06},{"x":1.67,"y":1.01},{"x":1.53,"y":1.08},{"x":1.74,"y":0.91},
{"x":1.61,"y":0.94},{"x":1.69,"y":1.16},{"x":1.54,"y":1.07},{"x":1.73,"y":1.12},{"x":1.59,"y":1.16}
]
},
"spacing":16,
"vconcat":[
{"spacing":6,"hconcat":[
{"width":288,"height":195,"view":{"fill":"#bee3c2","stroke":null},
"title":{"text":"(a) source model on source data","orient":"bottom","offset":9},
"encoding":{"x":{"field":"x","type":"quantitative","scale":{"domain":[-1,1.88],"nice":false,"zero":false},"axis":null},"y":{"field":"y","type":"quantitative","scale":{"domain":[-0.75,1.2],"nice":false,"zero":false},"axis":null}},
"layer":[
{"data":{"name":"poly"},"transform":[{"filter":"datum.r=='a'"}],"mark":{"type":"line","fill":"#b1b1b1","stroke":null,"strokeWidth":0,"clip":true},"encoding":{"order":{"field":"i","type":"quantitative"}}},
{"data":{"name":"poly"},"transform":[{"filter":"datum.r=='a' && !datum.e"}],"mark":{"type":"line","stroke":"#cc6f78","strokeWidth":1.2,"clip":true},"encoding":{"order":{"field":"i","type":"quantitative"}}},
{"data":{"name":"srcU"},"mark":{"type":"circle","size":11,"color":"#78c878","opacity":1}},
{"data":{"name":"srcL"},"mark":{"type":"circle","size":11,"color":"#5a5a5a","opacity":1}}
]},
{"width":288,"height":195,"view":{"fill":"#bee3c2","stroke":null},
"title":{"text":"(b) source model on target data","orient":"bottom","offset":9},
"encoding":{"x":{"field":"x","type":"quantitative","scale":{"domain":[-1,1.88],"nice":false,"zero":false},"axis":null},"y":{"field":"y","type":"quantitative","scale":{"domain":[-0.75,1.2],"nice":false,"zero":false},"axis":null}},
"layer":[
{"data":{"name":"poly"},"transform":[{"filter":"datum.r=='b'"}],"mark":{"type":"line","fill":"#b1b1b1","stroke":null,"strokeWidth":0,"clip":true},"encoding":{"order":{"field":"i","type":"quantitative"}}},
{"data":{"name":"poly"},"transform":[{"filter":"datum.r=='b' && !datum.e"}],"mark":{"type":"line","stroke":"#cc6f78","strokeWidth":1.2,"clip":true},"encoding":{"order":{"field":"i","type":"quantitative"}}},
{"data":{"name":"tgt"},"mark":{"type":"circle","size":64,"color":"#0000ff","opacity":1}}
]}
]},
{"spacing":6,"hconcat":[
{"width":288,"height":195,"view":{"fill":"#9fd59f","stroke":null},
"title":{"text":"(c) after stage 1 adaptation on target data","orient":"bottom","offset":9},
"encoding":{"x":{"field":"x","type":"quantitative","scale":{"domain":[-1,1.88],"nice":false,"zero":false},"axis":null},"y":{"field":"y","type":"quantitative","scale":{"domain":[-0.75,1.2],"nice":false,"zero":false},"axis":null}},
"layer":[
{"data":{"name":"poly"},"transform":[{"filter":"datum.r=='c1'"}],"mark":{"type":"line","fill":"#97b997","stroke":null,"strokeWidth":0,"clip":true},"encoding":{"order":{"field":"i","type":"quantitative"}}},
{"data":{"name":"poly"},"transform":[{"filter":"datum.r=='c1' && !datum.e"}],"mark":{"type":"line","stroke":"#a89c7c","strokeWidth":1.2,"clip":true},"encoding":{"order":{"field":"i","type":"quantitative"}}},
{"data":{"name":"poly"},"transform":[{"filter":"datum.r=='c2'"}],"mark":{"type":"line","fill":"#8a8a8a","stroke":null,"strokeWidth":0,"clip":true},"encoding":{"order":{"field":"i","type":"quantitative"}}},
{"data":{"name":"poly"},"transform":[{"filter":"datum.r=='c2' && !datum.e"}],"mark":{"type":"line","stroke":"#cc6f78","strokeWidth":1.2,"clip":true},"encoding":{"order":{"field":"i","type":"quantitative"}}},
{"data":{"name":"tgt"},"mark":{"type":"circle","size":64,"color":"#0000ff","opacity":1}}
]},
{"width":288,"height":195,"view":{"fill":"#9fd59f","stroke":null},
"title":{"text":"(d) after stage 2 adaptation on target data","orient":"bottom","offset":9},
"encoding":{"x":{"field":"x","type":"quantitative","scale":{"domain":[-1,1.88],"nice":false,"zero":false},"axis":null},"y":{"field":"y","type":"quantitative","scale":{"domain":[-0.75,1.2],"nice":false,"zero":false},"axis":null}},
"layer":[
{"data":{"name":"poly"},"transform":[{"filter":"datum.r=='d'"}],"mark":{"type":"line","fill":"#8a8a8a","stroke":null,"strokeWidth":0,"clip":true},"encoding":{"order":{"field":"i","type":"quantitative"}}},
{"data":{"name":"poly"},"transform":[{"filter":"datum.r=='d' && !datum.e"}],"mark":{"type":"line","stroke":"#cc6f78","strokeWidth":1.2,"clip":true},"encoding":{"order":{"field":"i","type":"quantitative"}}},
{"data":{"name":"tgt"},"mark":{"type":"circle","size":64,"color":"#0000ff","opacity":1}}
]}
]}
]
}
